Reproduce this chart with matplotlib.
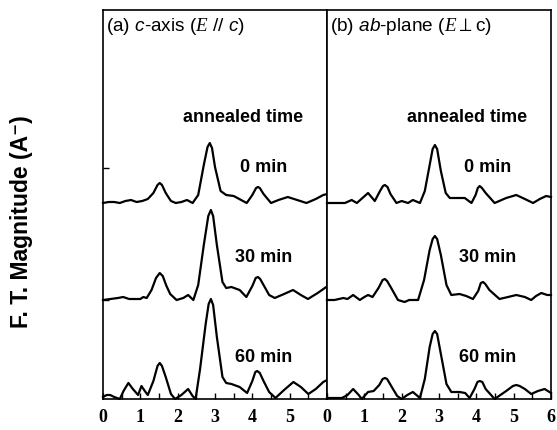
import matplotlib
matplotlib.use('Agg')
import matplotlib.pyplot as plt

sans = ['Liberation Sans', 'DejaVu Sans']
plt.rcParams['font.family'] = sans
plt.rcParams['mathtext.fontset'] = 'custom'
plt.rcParams['mathtext.rm'] = 'Liberation Sans'
plt.rcParams['mathtext.it'] = 'Liberation Sans:italic'
plt.rcParams['mathtext.sf'] = 'Liberation Serif:italic'

# ---- data (F.T. magnitude above each curve's own baseline, arbitrary units) ----
times = ['0 min', '30 min', '60 min']
offsets = [196, 99, 0]

# (a) c-axis
a0_x = [0, 0.15, 0.3, 0.45, 0.6, 0.75, 0.9, 1.05, 1.2, 1.35, 1.46, 1.52, 1.58, 1.68, 1.82, 1.95, 2.1, 2.25,
        2.4, 2.55, 2.7, 2.8, 2.86, 2.92, 3.0, 3.15, 3.3, 3.5, 3.7, 3.85, 4.0, 4.1, 4.15, 4.2, 4.3, 4.5, 4.7,
        4.95, 5.2, 5.45, 5.7, 5.9, 6.0]
a0_y = [0, 1, 1, 0, 2, 3, 1, 2, 4, 10, 18, 20, 18, 10, 2, 0, 1, 3,
        0, 8, 38, 56, 60, 55, 36, 12, 8, 7, 3, 0, 8, 15, 16, 15, 9, 0, 3,
        6, 3, 0, 4, 8, 9]
a30_x = [0, 0.2, 0.4, 0.54, 0.7, 0.85, 1.0, 1.08, 1.17, 1.3, 1.42, 1.52, 1.6, 1.7, 1.8, 1.97, 2.15, 2.28,
         2.42, 2.55, 2.7, 2.82, 2.89, 2.95, 3.05, 3.2, 3.3, 3.44, 3.66, 3.84, 4.0, 4.09, 4.15, 4.21, 4.3,
         4.45, 4.6, 4.85, 5.09, 5.3, 5.49, 5.75, 5.98]
a30_y = [0, 1, 2, 3, 1, 1, 1, 3, 2, 10, 22, 27, 24, 14, 6, 0, 2, 5,
         0, 15, 55, 84, 90, 84, 55, 18, 12, 13, 10, 3, 14, 22, 23, 21, 15,
         5, 2, 6, 10, 5, 1, 7, 13]
a60_x = [0, 0.1, 0.19, 0.3, 0.45, 0.55, 0.68, 0.8, 0.94, 1.03, 1.12, 1.2, 1.35, 1.46, 1.52, 1.58, 1.68,
         1.82, 1.93, 2.1, 2.28, 2.4, 2.48, 2.6, 2.75, 2.83, 2.89, 2.95, 3.05, 3.2, 3.3, 3.44, 3.66, 3.86,
         4.0, 4.08, 4.13, 4.2, 4.3, 4.45, 4.62, 4.85, 5.1, 5.3, 5.5, 5.7, 5.9, 6.0]
a60_y = [2, 4, 4, 2, 0, 8, 16, 10, 4, 13, 8, 4, 18, 33, 36, 33, 22,
         5, 0, 4, 10, 3, 0, 30, 75, 95, 100, 94, 62, 22, 16, 15, 12, 6,
         18, 27, 28, 26, 18, 7, 1, 9, 17, 12, 5, 10, 17, 19]

# (b) ab-plane
b0_x = [0, 0.2, 0.48, 0.66, 0.8, 0.95, 1.1, 1.28, 1.42, 1.5, 1.55, 1.62, 1.7, 1.86, 2.0, 2.17, 2.3, 2.49,
        2.62, 2.75, 2.83, 2.89, 2.95, 3.05, 3.18, 3.29, 3.5, 3.69, 3.87, 3.98, 4.04, 4.09, 4.15, 4.25,
        4.49, 4.8, 5.07, 5.3, 5.52, 5.7, 5.87, 6.0]
b0_y = [0, 0, 0, 3, 0, 5, 10, 2, 12, 17, 18, 16, 9, 0, 2, 0, 3, 0,
        12, 38, 54, 58, 54, 32, 10, 5, 5, 5, 0, 8, 15, 17, 15, 10,
        0, 5, 8, 4, 0, 4, 7, 6]
b30_x = [0, 0.2, 0.44, 0.55, 0.7, 0.88, 1.0, 1.1, 1.22, 1.38, 1.49, 1.55, 1.61, 1.72, 1.9, 2.08, 2.2, 2.3,
         2.44, 2.6, 2.75, 2.83, 2.89, 2.95, 3.05, 3.2, 3.33, 3.55, 3.73, 3.91, 4.05, 4.12, 4.18, 4.24,
         4.35, 4.62, 4.85, 5.07, 5.3, 5.47, 5.6, 5.74, 5.9, 6.0]
b30_y = [0, 0, 2, 1, 5, 0, 3, 5, 3, 12, 20, 21, 19, 12, 0, -2, 0, 0,
         0, 20, 50, 61, 64, 61, 45, 15, 5, 6, 4, 1, 9, 17, 18, 16,
         10, 1, 3, 5, 3, 0, 4, 7, 5, 5]
b60_x = [0, 0.2, 0.4, 0.55, 0.7, 0.85, 0.93, 1.1, 1.25, 1.4, 1.49, 1.55, 1.61, 1.72, 1.88, 2.0, 2.15, 2.3,
         2.49, 2.62, 2.75, 2.83, 2.89, 2.95, 3.05, 3.2, 3.33, 3.55, 3.7, 3.82, 3.95, 4.03, 4.09, 4.16,
         4.25, 4.49, 4.8, 4.98, 5.07, 5.16, 5.3, 5.47, 5.65, 5.83, 6.0]
b60_y = [1, 1, 1, 4, 10, 4, 0, 7, 8, 14, 20, 21, 20, 13, 3, 0, 4, 7,
         1, 20, 52, 65, 68, 65, 45, 15, 7, 7, 6, 1, 10, 17, 18, 17,
         10, 0, 8, 13, 14, 13, 10, 5, 8, 10, 6]

panels = [
    ('(a) $\\mathit{c}$-axis ($\\mathsf{E}$ // $\\mathit{c}$)',
     [(a0_x, a0_y), (a30_x, a30_y), (a60_x, a60_y)]),
    ('(b) $\\mathit{ab}$-plane ($\\mathsf{E}\\perp$c)',
     [(b0_x, b0_y), (b30_x, b30_y), (b60_x, b60_y)]),
]
label_y = [232, 141, 41]

fig = plt.figure(figsize=(5.57, 4.30), dpi=100)
w = 224 / 557
axes = [fig.add_axes([103 / 557, 31 / 430, w, 389 / 430]),
        fig.add_axes([327 / 557, 31 / 430, w, 389 / 430])]

for ax, (title, curves) in zip(axes, panels):
    for (xs, ys), off in zip(curves, offsets):
        ax.plot(xs, [v + off for v in ys], color='black', lw=1.6, clip_on=False,
                solid_joinstyle='round')
    ax.set_xlim(0, 6)
    ax.set_ylim(0, 389)
    ax.set_xticks([0, 1, 2, 3, 4, 5, 6])
    ax.set_xticks([0.5, 1.5, 2.5, 3.5, 4.5, 5.5], minor=True)
    ax.tick_params(axis='x', which='both', direction='in', length=4, width=1, pad=7)
    for lab in ax.get_xticklabels():
        lab.set_fontfamily('Liberation Serif')
        lab.set_fontweight('bold')
        lab.set_fontsize(13)
    ax.set_yticks([])
    for s in ax.spines.values():
        s.set_linewidth(1.2)
    ax.text(0.08, 373, title, fontsize=13.7, va='center', ha='left')
    ax.text(3.76, 282, 'annealed time', fontsize=13, fontweight='bold', ha='center', va='center')
    for t, yy in zip(times, label_y):
        ax.text(4.3, yy, t, fontsize=13, fontweight='bold', ha='center', va='center')

axes[0].set_xticklabels(['0', '1', '2', '3', '4', '5', ''])
axes[0].set_yticks([99, 231])
axes[0].tick_params(axis='y', direction='in', length=4, width=1, labelleft=False)

fig.text(22 / 557, 1 - 222 / 430, 'F. T. Magnitude (A\u207b)', rotation=90, fontsize=16.5,
         fontweight='bold', ha='center', va='center', family=sans)

fig.savefig('out.png', dpi=100)
